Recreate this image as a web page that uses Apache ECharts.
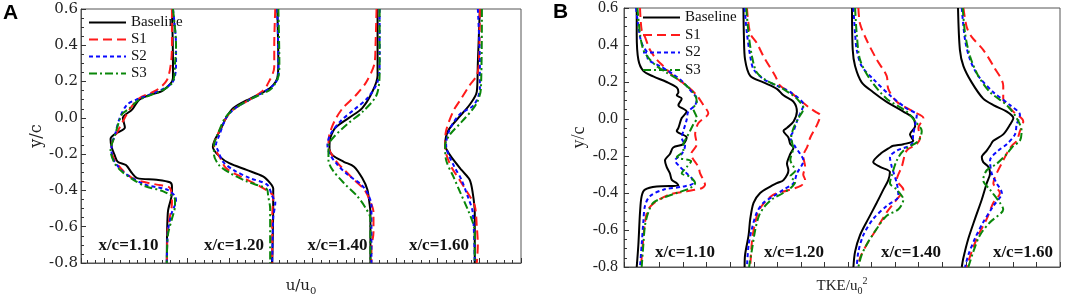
<!DOCTYPE html>
<html><head><meta charset="utf-8">
<script src="https://cdn.jsdelivr.net/npm/echarts@6/dist/echarts.min.js"></script>
<style>html,body{margin:0;padding:0;background:#fff}#c{width:1065px;height:301px}</style>
</head><body><div id="c"></div>
<script>
// ---------- data ----------
const seriesNames = ['Baseline', 'S1', 'S2', 'S3'];
const stationLabels = ['x/c=1.10', 'x/c=1.20', 'x/c=1.40', 'x/c=1.60'];
const yMin = -0.8, yMax = 0.6, yStep = 0.2;
// horizontal shift of each station profile (plot offset)
const uOffsets = [0, 1, 2, 3];
const tkeOffsets = [0, 0.0455, 0.0917, 0.1367];

// Panel A: [u/u0, y/c]
const u110Base = [[0.99,0.6],[1.00,0.3],[1.00,0.22],[0.90,0.15],[0.77,0.126],[0.67,0.10],[0.60,0.045],[0.51,0.0],[0.53,-0.053],[0.43,-0.09],[0.39,-0.116],[0.40,-0.161],[0.43,-0.206],[0.46,-0.242],[0.54,-0.26],[0.60,-0.305],[0.65,-0.332],[0.84,-0.341],[0.97,-0.355],[0.99,-0.377],[0.99,-0.413],[0.95,-0.52],[0.94,-0.8]];
const u110S1 = [[0.99,0.6],[0.99,0.4],[0.98,0.3],[0.94,0.207],[0.84,0.153],[0.67,0.108],[0.58,0.05],[0.52,-0.009],[0.43,-0.107],[0.40,-0.152],[0.40,-0.179],[0.43,-0.233],[0.52,-0.296],[0.63,-0.34],[0.84,-0.368],[0.97,-0.386],[0.99,-0.467],[0.95,-0.61],[0.94,-0.8]];
const u110S2 = [[1.00,0.6],[1.03,0.4],[1.03,0.3],[1.00,0.2],[0.87,0.15],[0.64,0.1],[0.55,0.072],[0.48,0.0],[0.43,-0.1],[0.40,-0.15],[0.40,-0.188],[0.43,-0.242],[0.53,-0.305],[0.73,-0.368],[0.94,-0.395],[1.02,-0.431],[1.03,-0.458],[0.99,-0.52],[0.95,-0.628],[0.94,-0.8]];
const u110S3 = [[1.00,0.6],[1.03,0.4],[1.02,0.3],[1.00,0.2],[0.89,0.15],[0.67,0.1],[0.57,0.05],[0.50,0.018],[0.43,-0.1],[0.40,-0.15],[0.39,-0.179],[0.43,-0.251],[0.50,-0.296],[0.61,-0.34],[0.73,-0.377],[0.90,-0.404],[1.02,-0.449],[1.02,-0.485],[0.99,-0.556],[0.95,-0.646],[0.94,-0.8]];

const u120Base = [[1.02,0.6],[1.03,0.3],[1.02,0.22],[0.98,0.18],[0.92,0.153],[0.76,0.108],[0.59,0.054],[0.52,0.0],[0.46,-0.071],[0.41,-0.12],[0.39,-0.16],[0.46,-0.215],[0.55,-0.25],[0.72,-0.287],[0.88,-0.323],[0.95,-0.36],[0.98,-0.39],[0.98,-0.45],[0.97,-0.8]];
const u120S1 = [[1.00,0.6],[0.99,0.4],[0.99,0.28],[0.92,0.18],[0.87,0.145],[0.75,0.1],[0.60,0.05],[0.52,0.0],[0.43,-0.1],[0.40,-0.15],[0.42,-0.18],[0.46,-0.22],[0.52,-0.278],[0.66,-0.323],[0.85,-0.377],[0.95,-0.413],[0.98,-0.431],[0.97,-0.55],[0.97,-0.8]];
const u120S2 = [[1.02,0.6],[1.03,0.3],[1.03,0.227],[0.98,0.18],[0.88,0.14],[0.75,0.1],[0.60,0.05],[0.52,0.0],[0.45,-0.1],[0.42,-0.15],[0.44,-0.18],[0.49,-0.242],[0.59,-0.287],[0.75,-0.332],[0.92,-0.368],[0.97,-0.431],[1.00,-0.467],[0.98,-0.55],[0.97,-0.8]];
const u120S3 = [[1.03,0.6],[1.04,0.3],[1.03,0.227],[0.96,0.16],[0.86,0.13],[0.75,0.1],[0.60,0.05],[0.51,0.0],[0.43,-0.1],[0.40,-0.15],[0.40,-0.2],[0.45,-0.26],[0.56,-0.305],[0.72,-0.35],[0.92,-0.395],[0.93,-0.43],[0.95,-0.5],[0.95,-0.8]];

const u140Base = [[1.00,0.6],[1.00,0.234],[0.95,0.145],[0.85,0.054],[0.72,0.0],[0.59,-0.053],[0.54,-0.107],[0.53,-0.152],[0.53,-0.17],[0.56,-0.206],[0.67,-0.242],[0.77,-0.269],[0.85,-0.332],[0.90,-0.395],[0.92,-0.467],[0.93,-0.52],[0.93,-0.8]];
const u140S1 = [[0.99,0.6],[0.98,0.4],[0.97,0.3],[0.89,0.198],[0.79,0.126],[0.66,0.054],[0.58,-0.017],[0.53,-0.09],[0.52,-0.143],[0.53,-0.18],[0.60,-0.242],[0.69,-0.296],[0.77,-0.341],[0.87,-0.395],[0.92,-0.449],[0.96,-0.52],[0.96,-0.63],[0.94,-0.72],[0.94,-0.8]];
const u140S2 = [[1.02,0.6],[1.02,0.3],[1.00,0.198],[0.90,0.108],[0.77,0.045],[0.64,-0.017],[0.54,-0.09],[0.51,-0.15],[0.53,-0.197],[0.61,-0.26],[0.71,-0.314],[0.84,-0.368],[0.90,-0.413],[0.94,-0.485],[0.94,-0.8]];
const u140S3 = [[1.02,0.6],[1.02,0.25],[0.99,0.126],[0.86,0.037],[0.70,-0.036],[0.57,-0.107],[0.52,-0.152],[0.52,-0.233],[0.56,-0.287],[0.67,-0.359],[0.80,-0.431],[0.88,-0.494],[0.93,-0.556],[0.93,-0.8]];

const u160Base = [[1.00,0.6],[0.98,0.3],[0.97,0.145],[0.90,0.072],[0.79,0.0],[0.69,-0.071],[0.66,-0.15],[0.67,-0.17],[0.72,-0.215],[0.82,-0.287],[0.90,-0.341],[0.93,-0.413],[0.95,-0.52],[0.95,-0.8]];
const u160S1 = [[1.00,0.6],[0.99,0.3],[0.97,0.234],[0.90,0.18],[0.82,0.108],[0.74,0.037],[0.67,-0.071],[0.66,-0.15],[0.67,-0.197],[0.72,-0.269],[0.80,-0.341],[0.88,-0.413],[0.95,-0.485],[0.97,-0.6],[0.98,-0.7],[0.97,-0.8]];
const u160S2 = [[0.98,0.6],[1.00,0.3],[1.00,0.162],[0.94,0.07],[0.80,0.018],[0.70,-0.071],[0.67,-0.15],[0.69,-0.197],[0.75,-0.269],[0.82,-0.341],[0.88,-0.431],[0.93,-0.52],[0.95,-0.8]];
const u160S3 = [[1.02,0.6],[1.01,0.16],[0.96,0.072],[0.83,-0.017],[0.71,-0.09],[0.66,-0.15],[0.67,-0.233],[0.74,-0.323],[0.81,-0.413],[0.88,-0.503],[0.93,-0.575],[0.95,-0.63],[0.95,-0.8]];

// Panel B: [TKE/u0^2, y/c]
const k110Base = [[0.0003,0.6],[0.0003,0.46],[0.0010,0.32],[0.0031,0.26],[0.0073,0.23],[0.0130,0.2],[0.0173,0.17],[0.0180,0.145],[0.0173,0.128],[0.0194,0.11],[0.0180,0.075],[0.0215,0.04],[0.0194,0.005],[0.0180,-0.048],[0.0173,-0.065],[0.0215,-0.1],[0.0201,-0.136],[0.0158,-0.154],[0.0144,-0.189],[0.0123,-0.224],[0.0130,-0.259],[0.0144,-0.294],[0.0152,-0.329],[0.0173,-0.347],[0.0180,-0.36],[0.0088,-0.365],[0.0038,-0.382],[0.0024,-0.417],[0.0017,-0.505],[0.0010,-0.68],[0.0003,-0.8]];
const k110S1 = [[0.0017,0.6],[0.0024,0.48],[0.0038,0.444],[0.0059,0.374],[0.0088,0.321],[0.0116,0.286],[0.0158,0.233],[0.0215,0.18],[0.0258,0.128],[0.0286,0.075],[0.0307,0.031],[0.0265,-0.022],[0.0251,-0.083],[0.0258,-0.136],[0.0234,-0.19],[0.0265,-0.259],[0.0272,-0.294],[0.0286,-0.329],[0.0293,-0.356],[0.0279,-0.374],[0.0215,-0.391],[0.0144,-0.408],[0.0088,-0.444],[0.0052,-0.488],[0.0038,-0.558],[0.0031,-0.646],[0.0024,-0.75],[0.0021,-0.8]];
const k110S2 = [[0.0000,0.6],[0.0017,0.444],[0.0031,0.39],[0.0045,0.365],[0.0052,0.321],[0.0102,0.286],[0.0158,0.242],[0.0201,0.198],[0.0237,0.145],[0.0258,0.11],[0.0251,0.075],[0.0222,0.04],[0.0215,-0.004],[0.0201,-0.065],[0.0194,-0.1],[0.0208,-0.145],[0.0194,-0.189],[0.0166,-0.224],[0.0187,-0.259],[0.0215,-0.294],[0.0237,-0.321],[0.0243,-0.347],[0.0201,-0.365],[0.0116,-0.382],[0.0059,-0.417],[0.0038,-0.47],[0.0031,-0.558],[0.0024,-0.681],[0.0017,-0.8]];
const k110S3 = [[0.0006,0.6],[0.0017,0.46],[0.0031,0.374],[0.0059,0.321],[0.0088,0.286],[0.0130,0.251],[0.0187,0.207],[0.0229,0.163],[0.0251,0.128],[0.0258,0.092],[0.0243,0.057],[0.0258,0.005],[0.0243,-0.03],[0.0229,-0.065],[0.0215,-0.1],[0.0201,-0.136],[0.0201,-0.171],[0.0173,-0.206],[0.0234,-0.228],[0.0215,-0.26],[0.0194,-0.294],[0.0229,-0.312],[0.0251,-0.347],[0.0229,-0.374],[0.0173,-0.4],[0.0116,-0.426],[0.0073,-0.453],[0.0052,-0.505],[0.0038,-0.576],[0.0031,-0.681],[0.0024,-0.8]];

const k120Base = [[0.0001,0.6],[0.0003,0.45],[0.0008,0.321],[0.0030,0.233],[0.0086,0.198],[0.0143,0.163],[0.0171,0.128],[0.0214,0.093],[0.0228,0.04],[0.0214,-0.013],[0.0186,-0.048],[0.0171,-0.065],[0.0192,-0.1],[0.0200,-0.136],[0.0214,-0.154],[0.0200,-0.189],[0.0186,-0.242],[0.0192,-0.277],[0.0171,-0.33],[0.0143,-0.347],[0.0115,-0.365],[0.0072,-0.4],[0.0044,-0.453],[0.0030,-0.54],[0.0023,-0.628],[0.0008,-0.734],[0.0006,-0.8]];
const k120S1 = [[0.0016,0.6],[0.0030,0.462],[0.0058,0.41],[0.0086,0.339],[0.0136,0.233],[0.0157,0.18],[0.0200,0.145],[0.0242,0.101],[0.0276,0.066],[0.0306,0.04],[0.0327,0.02],[0.0314,-0.03],[0.0285,-0.1],[0.0272,-0.15],[0.0255,-0.2],[0.0263,-0.26],[0.0255,-0.3],[0.0263,-0.33],[0.0246,-0.36],[0.0191,-0.385],[0.0127,-0.41],[0.0085,-0.46],[0.0064,-0.5],[0.0051,-0.56],[0.0038,-0.65],[0.0030,-0.8]];
const k120S2 = [[0.0006,0.6],[0.0016,0.462],[0.0030,0.339],[0.0044,0.269],[0.0086,0.216],[0.0143,0.18],[0.0200,0.145],[0.0256,0.075],[0.0242,0.031],[0.0228,-0.013],[0.0214,-0.065],[0.0200,-0.1],[0.0221,-0.15],[0.0242,-0.189],[0.0256,-0.224],[0.0228,-0.294],[0.0214,-0.347],[0.0171,-0.382],[0.0129,-0.417],[0.0086,-0.453],[0.0058,-0.505],[0.0037,-0.593],[0.0023,-0.68],[0.0016,-0.8]];
const k120S3 = [[0.0013,0.6],[0.0023,0.46],[0.0037,0.34],[0.0058,0.251],[0.0101,0.207],[0.0157,0.172],[0.0200,0.137],[0.0228,0.11],[0.0256,0.057],[0.0235,0.005],[0.0214,-0.048],[0.0204,-0.1],[0.0212,-0.16],[0.0200,-0.22],[0.0221,-0.28],[0.0200,-0.31],[0.0221,-0.34],[0.0204,-0.37],[0.0170,-0.4],[0.0127,-0.43],[0.0093,-0.47],[0.0068,-0.52],[0.0051,-0.6],[0.0038,-0.7],[0.0025,-0.8]];

const k140Base = [[0.0000,0.6],[0.0003,0.374],[0.0013,0.286],[0.0041,0.198],[0.0090,0.145],[0.0147,0.093],[0.0218,0.04],[0.0260,0.005],[0.0268,-0.039],[0.0246,-0.083],[0.0260,-0.118],[0.0218,-0.136],[0.0175,-0.145],[0.0161,-0.154],[0.0119,-0.19],[0.0090,-0.233],[0.0119,-0.259],[0.0161,-0.286],[0.0154,-0.33],[0.0133,-0.382],[0.0105,-0.453],[0.0069,-0.54],[0.0034,-0.628],[0.0013,-0.717],[0.0006,-0.8]];
const k140S1 = [[0.0027,0.6],[0.0034,0.515],[0.0062,0.427],[0.0105,0.321],[0.0147,0.233],[0.0154,0.163],[0.0190,0.093],[0.0260,0.04],[0.0303,0.005],[0.0282,-0.048],[0.0289,-0.1],[0.0275,-0.136],[0.0232,-0.171],[0.0211,-0.259],[0.0190,-0.33],[0.0218,-0.382],[0.0190,-0.435],[0.0147,-0.505],[0.0105,-0.593],[0.0062,-0.68],[0.0034,-0.75],[0.0027,-0.8]];
const k140S2 = [[0.0006,0.6],[0.0013,0.462],[0.0020,0.374],[0.0041,0.286],[0.0090,0.216],[0.0161,0.128],[0.0232,0.057],[0.0275,0.022],[0.0268,-0.03],[0.0260,-0.083],[0.0254,-0.136],[0.0190,-0.171],[0.0161,-0.206],[0.0169,-0.259],[0.0190,-0.347],[0.0197,-0.417],[0.0147,-0.47],[0.0090,-0.54],[0.0048,-0.628],[0.0027,-0.717],[0.0020,-0.8]];
const k140S3 = [[0.0013,0.6],[0.0020,0.46],[0.0034,0.321],[0.0076,0.216],[0.0147,0.11],[0.0232,0.04],[0.0268,-0.013],[0.0296,-0.065],[0.0282,-0.118],[0.0218,-0.171],[0.0190,-0.224],[0.0170,-0.3],[0.0161,-0.347],[0.0190,-0.382],[0.0218,-0.435],[0.0197,-0.488],[0.0147,-0.523],[0.0105,-0.593],[0.0069,-0.664],[0.0041,-0.734],[0.0027,-0.8]];

const k160Base = [[0.0000,0.6],[0.0008,0.374],[0.0023,0.286],[0.0058,0.198],[0.0107,0.11],[0.0150,0.075],[0.0207,0.04],[0.0235,0.005],[0.0221,-0.03],[0.0192,-0.083],[0.0150,-0.118],[0.0136,-0.145],[0.0122,-0.171],[0.0101,-0.206],[0.0107,-0.233],[0.0129,-0.259],[0.0136,-0.294],[0.0122,-0.347],[0.0101,-0.435],[0.0072,-0.54],[0.0044,-0.646],[0.0023,-0.75],[0.0016,-0.8]];
const k160S1 = [[0.0023,0.6],[0.0037,0.497],[0.0058,0.444],[0.0107,0.374],[0.0150,0.286],[0.0192,0.18],[0.0192,0.11],[0.0235,0.04],[0.0277,-0.013],[0.0263,-0.065],[0.0249,-0.118],[0.0228,-0.145],[0.0214,-0.171],[0.0192,-0.224],[0.0164,-0.294],[0.0150,-0.347],[0.0178,-0.4],[0.0150,-0.453],[0.0122,-0.54],[0.0086,-0.628],[0.0058,-0.717],[0.0037,-0.8]];
const k160S2 = [[0.0016,0.6],[0.0030,0.427],[0.0051,0.321],[0.0086,0.233],[0.0150,0.145],[0.0221,0.075],[0.0263,0.022],[0.0249,-0.03],[0.0242,-0.083],[0.0207,-0.136],[0.0171,-0.171],[0.0136,-0.224],[0.0143,-0.294],[0.0164,-0.347],[0.0186,-0.4],[0.0150,-0.47],[0.0107,-0.558],[0.0072,-0.646],[0.0044,-0.734],[0.0030,-0.8]];
const k160S3 = [[0.0020,0.6],[0.0030,0.462],[0.0051,0.339],[0.0086,0.233],[0.0136,0.145],[0.0207,0.075],[0.0249,0.005],[0.0270,-0.065],[0.0263,-0.118],[0.0235,-0.145],[0.0207,-0.189],[0.0164,-0.242],[0.0122,-0.277],[0.0107,-0.33],[0.0136,-0.382],[0.0178,-0.453],[0.0192,-0.488],[0.0136,-0.558],[0.0093,-0.628],[0.0065,-0.717],[0.0044,-0.8]];

// ---------- build ----------
const uCurves = [[u110Base,u110S1,u110S2,u110S3],[u120Base,u120S1,u120S2,u120S3],[u140Base,u140S1,u140S2,u140S3],[u160Base,u160S1,u160S2,u160S3]];
const kCurves = [[k110Base,k110S1,k110S2,k110S3],[k120Base,k120S1,k120S2,k120S3],[k140Base,k140S1,k140S2,k140S3],[k160Base,k160S1,k160S2,k160S3]];
const colors = ['#000000', '#ff1a1a', '#0a0aff', '#0a870a'];
const dashes = ['solid', [9, 5], [4, 3], [8, 3, 2, 3]];

const series = [];
function addSet(curves, offsets, xi, yi) {
  curves.forEach((set, i) => set.forEach((pts, k) => {
    series.push({
      type: 'line', name: seriesNames[k], xAxisIndex: xi, yAxisIndex: yi,
      data: pts.map(p => [p[0] + offsets[i], p[1]]),
      symbol: 'none', showSymbol: false, smooth: 0.3, z: 2 + k,
      lineStyle: { color: colors[k], width: 2, type: dashes[k] },
      itemStyle: { color: colors[k] }
    });
  }));
}
addSet(uCurves, uOffsets, 0, 0);
addSet(kCurves, tkeOffsets, 2, 1);

const fmt = v => (Math.abs(v) < 1e-9 ? '0.0' : v.toFixed(1));
const frame = '#555';

function yAxisDef(grid, labelFont, labelSize, margin, nameFont, nameSize, nameGap) {
  return {
    type: 'value', gridIndex: grid, min: yMin, max: yMax, interval: yStep,
    axisLine: { show: true, onZero: false, lineStyle: { color: frame, width: 1 } },
    axisTick: { show: true, inside: true, length: 5, lineStyle: { color: '#333' } },
    minorTick: { show: true, splitNumber: 4, length: 3, lineStyle: { color: '#333' } },
    splitLine: { show: false },
    axisLabel: { formatter: fmt, fontFamily: labelFont, fontSize: labelSize, color: '#222', margin: margin },
    name: 'y/c', nameLocation: 'middle', nameGap: nameGap,
    nameTextStyle: { fontFamily: nameFont, fontSize: nameSize, color: '#222' }
  };
}

const legendCommon = {
  orient: 'vertical', itemWidth: 37, itemHeight: 14, padding: 0,
  data: seriesNames,
  itemStyle: { color: 'rgba(0,0,0,0)', borderWidth: 0 },
  textStyle: { fontFamily: 'Liberation Serif', fontSize: 15, color: '#111' }
};

const option = {
  animation: false,
  backgroundColor: '#fff',
  grid: [
    { left: 81, top: 9, width: 440, height: 259, show: true, borderColor: frame, borderWidth: 1, backgroundColor: 'transparent' },
    { left: 624, top: 7, width: 436, height: 265.5, show: true, borderColor: frame, borderWidth: 1, backgroundColor: 'transparent' }
  ],
  xAxis: [
    { type: 'value', gridIndex: 0, min: 0.101, max: 4.402, position: 'bottom',
      axisLine: { show: true, onZero: false, lineStyle: { color: frame } }, axisTick: { show: false },
      axisLabel: { show: false }, splitLine: { show: false },
      name: '{t|u/u}{s|0}', nameLocation: 'middle', nameGap: 13,
      nameTextStyle: { rich: {
        t: { fontFamily: 'DejaVu Serif', fontSize: 15, color: '#222', lineHeight: 20 },
        s: { fontFamily: 'DejaVu Serif', fontSize: 10, color: '#222', lineHeight: 10, verticalAlign: 'bottom' } } } },
    { type: 'value', gridIndex: 0, inverse: true, min: 0, max: 10.55, interval: 1, position: 'bottom',
      axisLine: { show: false, onZero: false }, axisLabel: { show: false }, splitLine: { show: false },
      axisTick: { show: true, inside: true, length: 5, lineStyle: { color: '#333' } },
      minorTick: { show: true, splitNumber: 5, length: 3, lineStyle: { color: '#333' } } },
    { type: 'value', gridIndex: 1, min: -0.0051, max: 0.18, position: 'bottom',
      axisLine: { show: true, onZero: false, lineStyle: { color: frame } }, axisTick: { show: false },
      axisLabel: { show: false }, splitLine: { show: false },
      name: '{t|TKE/u}{s|0}{p|2}', nameLocation: 'middle', nameGap: 9,
      nameTextStyle: { rich: {
        t: { fontFamily: 'Liberation Serif', fontSize: 15, color: '#222', lineHeight: 20 },
        s: { fontFamily: 'Liberation Serif', fontSize: 10, color: '#222', lineHeight: 10, verticalAlign: 'bottom' },
        p: { fontFamily: 'Liberation Serif', fontSize: 10, color: '#222', lineHeight: 10, verticalAlign: 'top' } } } },
    { type: 'value', gridIndex: 1, inverse: true, min: 0, max: 18.51, interval: 1, position: 'bottom',
      axisLine: { show: false, onZero: false }, axisLabel: { show: false }, splitLine: { show: false },
      axisTick: { show: true, inside: true, length: 5, lineStyle: { color: '#333' } } }
  ],
  yAxis: [
    yAxisDef(0, 'DejaVu Serif', 15, 3, 'DejaVu Serif', 16, 33),
    yAxisDef(1, 'Liberation Serif', 16, 6, 'Liberation Serif', 18, 36)
  ],
  legend: [
    Object.assign({ left: 88, top: 15, itemGap: 2 }, legendCommon),
    Object.assign({ left: 642, top: 10, itemGap: 2.5 }, legendCommon)
  ],
  graphic: [
    { type: 'text', x: 3, y: 3, style: { text: 'A', font: 'bold 21px "Liberation Sans"', fill: '#000' } },
    { type: 'text', x: 553, y: 2, style: { text: 'B', font: 'bold 21px "Liberation Sans"', fill: '#000' } }
  ].concat(stationLabels.map((t, i) => ({
    type: 'text', x: [128.5, 234, 337.5, 439][i], y: 246,
    style: { text: t, font: 'bold 17px "Liberation Serif"', fill: '#111', align: 'center', verticalAlign: 'middle', textAlign: 'center', textVerticalAlign: 'middle' }
  }))).concat(stationLabels.map((t, i) => ({
    type: 'text', x: [685, 794, 911, 1023][i], y: 253,
    style: { text: t, font: 'bold 17px "Liberation Serif"', fill: '#111', align: 'center', verticalAlign: 'middle', textAlign: 'center', textVerticalAlign: 'middle' }
  }))),
  series: series
};

const chart = echarts.init(document.getElementById('c'), null, { renderer: 'canvas' });
chart.setOption(option);
</script>
</body></html>
